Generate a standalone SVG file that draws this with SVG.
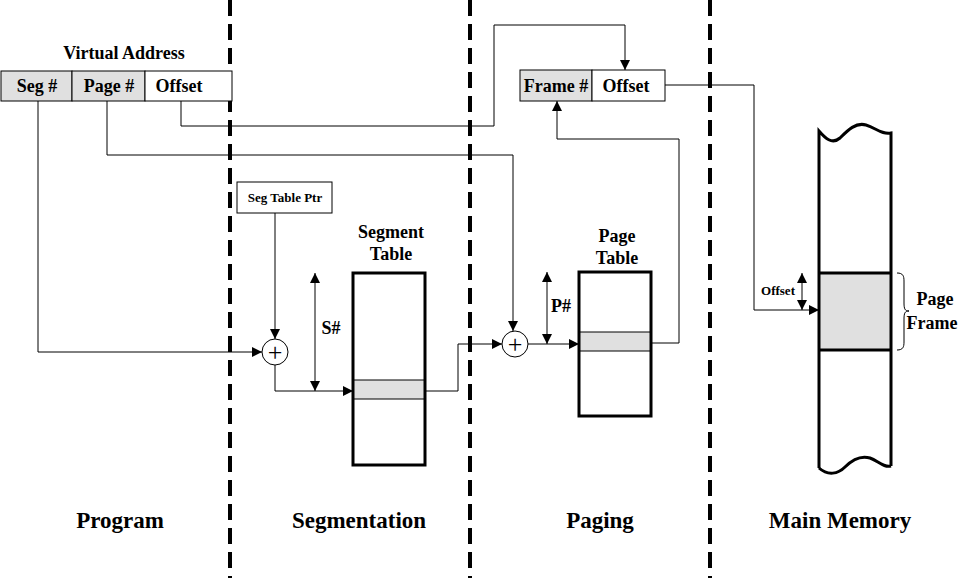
<svg xmlns="http://www.w3.org/2000/svg" width="960" height="578" viewBox="0 0 960 578" font-family="'Liberation Serif', 'DejaVu Serif', serif">
<defs>
<marker id="ah" viewBox="0 0 10 10" refX="10" refY="5" markerWidth="10" markerHeight="10" markerUnits="userSpaceOnUse" orient="auto-start-reverse">
<path d="M0,0 L10,5 L0,10 Z" fill="#000"/>
</marker>
</defs>
<style>
text{font-family:'Liberation Serif','DejaVu Serif',serif;font-weight:bold;fill:#000;text-anchor:middle}
.t16{font-size:18px}
.t22{font-size:23px}
.t12{font-size:13px}
.plus{font-size:26px;font-weight:normal;fill:#000}
.cell{stroke:#000;stroke-width:1;}
.g{fill:#e0e0e0}
.w{fill:#fff}
.thick{stroke:#000;stroke-width:3;fill:none}
.c{fill:none;stroke:#000;stroke-width:1}
.dash{stroke:#000;stroke-width:4;stroke-dasharray:16 8}
</style>
<rect width="960" height="578" fill="#fff"/>
<g id="dividers">
<line class="dash" x1="230" y1="0" x2="230" y2="578"/>
<line class="dash" x1="470" y1="0" x2="470" y2="578"/>
<line class="dash" x1="710" y1="0" x2="710" y2="578"/>
</g>
<g id="virtual-address">
<text class="t16" x="124" y="59">Virtual Address</text>
<rect class="cell g" x="1" y="71" width="71" height="30"/>
<rect class="cell g" x="72" y="71" width="73" height="30"/>
<rect class="cell w" x="145" y="71" width="87" height="30"/>
<text class="t16" x="37" y="92">Seg #</text>
<text class="t16" x="109" y="92">Page #</text>
<text class="t16" x="179" y="92">Offset</text>
</g>
<g id="seg-table-ptr">
<rect class="cell w" x="237" y="182" width="95" height="31"/>
<text class="t12" x="285" y="202">Seg Table Ptr</text>
</g>
<g id="adder1">
<circle cx="275" cy="352" r="13" fill="#fff" stroke="#000" stroke-width="1"/>
<text class="plus" x="275" y="361">+</text>
</g>
<g id="segment-table">
<text class="t16" x="391" y="238">Segment</text>
<text class="t16" x="391" y="260">Table</text>
<rect x="353" y="380" width="72" height="19" class="g"/>
<line x1="353" y1="380" x2="425" y2="380" stroke="#000"/>
<line x1="353" y1="399" x2="425" y2="399" stroke="#000"/>
<rect class="thick" x="353" y="273" width="72" height="192"/>
</g>
<g id="adder2">
<circle cx="515" cy="344" r="13" fill="#fff" stroke="#000" stroke-width="1"/>
<text class="plus" x="515" y="353">+</text>
</g>
<g id="page-table">
<text class="t16" x="617" y="242">Page</text>
<text class="t16" x="617" y="264">Table</text>
<rect x="579" y="332" width="72" height="19" class="g"/>
<line x1="579" y1="332" x2="651" y2="332" stroke="#000"/>
<line x1="579" y1="351" x2="651" y2="351" stroke="#000"/>
<rect class="thick" x="579" y="272" width="72" height="144"/>
</g>
<g id="physical-address">
<rect class="cell g" x="520" y="70" width="72" height="31"/>
<rect class="cell w" x="592" y="70" width="73" height="31"/>
<text class="t16" x="556" y="92">Frame #</text>
<text class="t16" x="626" y="92">Offset</text>
</g>
<g id="main-memory">
<path d="M819,131 C825,138 832,145 840,138 C848,130 856,122 866,125 C876,128 882,135 891,133 L891,466 C884,468 878,461 870,458 C860,455 852,460 845,467 C838,474 828,476 819,468 Z" fill="#fff" stroke="none"/>
<rect x="819" y="273" width="72" height="77" class="g"/>
<path class="thick" d="M819,468 L819,131 C825,138 832,145 840,138 C848,130 856,122 866,125 C876,128 882,135 891,133 L891,466"/>
<path class="thick" d="M819,468 C828,476 838,474 845,467 C852,460 860,455 870,458 C878,461 884,468 891,466"/>
<line class="thick" x1="819" y1="273" x2="891" y2="273"/>
<line class="thick" x1="819" y1="350" x2="891" y2="350"/>
<path class="c" d="M897,273 C903,273 904,276 904,281 L904,303 C904,309 905,311 909,311 C905,311 904,313 904,319 L904,342 C904,347 903,350 897,350"/>
<text class="t16" x="935" y="305">Page</text>
<text class="t16" x="932" y="329">Frame</text>
</g>
<g id="connectors">
<path class="c" d="M38,101 L38,352 L262,352" marker-end="url(#ah)"/>
<path class="c" d="M275,213 L275,339" marker-end="url(#ah)"/>
<path class="c" d="M275,365 L275,391 L353,391" marker-end="url(#ah)"/>
<line class="c" x1="315" y1="273" x2="315" y2="391" marker-start="url(#ah)" marker-end="url(#ah)"/>
<path class="c" d="M107,101 L107,155 L513,155 L513,331" marker-end="url(#ah)"/>
<path class="c" d="M425,391 L458,391 L458,344 L502,344" marker-end="url(#ah)"/>
<path class="c" d="M528,344 L579,344" marker-end="url(#ah)"/>
<line class="c" x1="547" y1="272" x2="547" y2="344" marker-start="url(#ah)" marker-end="url(#ah)"/>
<path class="c" d="M181,101 L181,126 L494,126 L494,25 L625,25 L625,70" marker-end="url(#ah)"/>
<path class="c" d="M651,343 L679,343 L679,139 L557,139 L557,101" marker-end="url(#ah)"/>
<path class="c" d="M665,85 L754,85 L754,310 L819,310" marker-end="url(#ah)"/>
<line class="c" x1="802" y1="273" x2="802" y2="310" marker-start="url(#ah)" marker-end="url(#ah)"/>
</g>
<g id="labels">
<text class="t16" x="331" y="334">S#</text>
<text class="t16" x="561" y="312">P#</text>
<text class="t12" x="778" y="295">Offset</text>
<text class="t22" x="120" y="528">Program</text>
<text class="t22" x="359" y="528">Segmentation</text>
<text class="t22" x="600" y="528">Paging</text>
<text class="t22" x="840" y="528">Main Memory</text>
</g>
</svg>
